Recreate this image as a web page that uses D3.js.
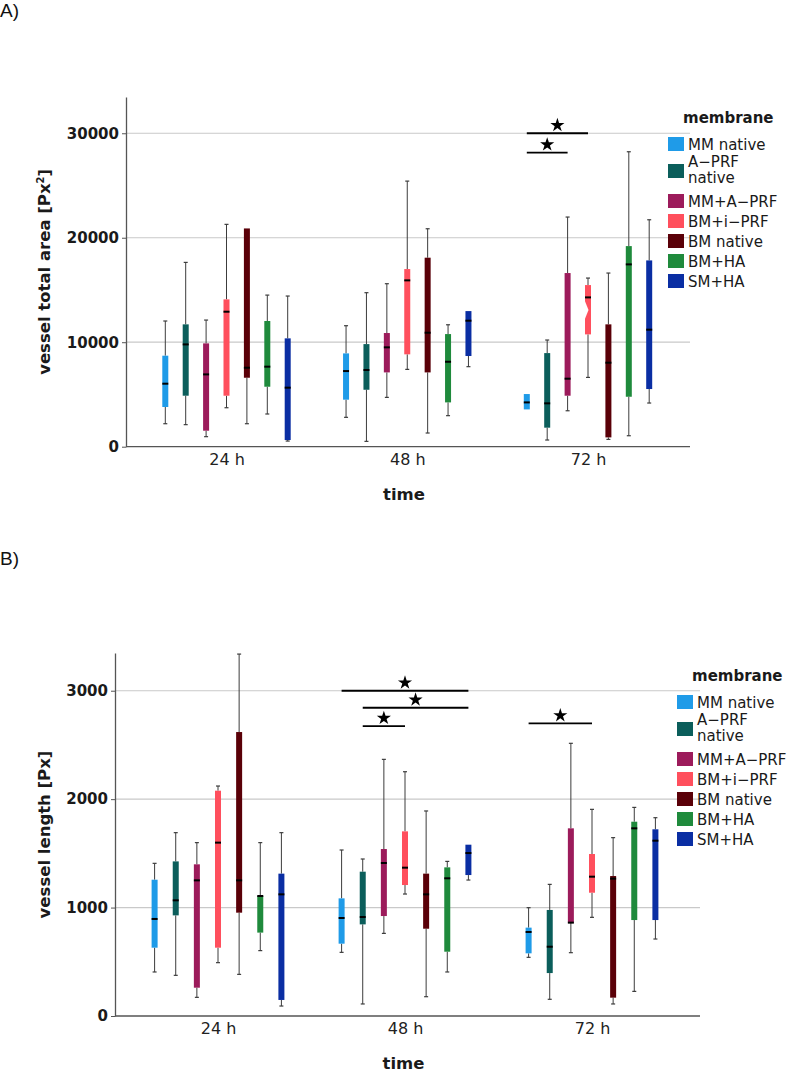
<!DOCTYPE html>
<html>
<head>
<meta charset="utf-8">
<script src="https://cdn.jsdelivr.net/npm/d3@7"></script>
<style>
  html, body { margin: 0; padding: 0; background: #fff; }
  svg { display: block; }
</style>
</head>
<body>
<svg id="chart" width="797" height="1074"></svg>
<script>
// ---------- data ----------
const times = ["24 h", "48 h", "72 h"];
const membranes = ["MM native", "A\u2212PRF native", "MM+A\u2212PRF", "BM+i\u2212PRF", "BM native", "BM+HA", "SM+HA"];
const legendLines = [["MM native"], ["A\u2212PRF", "native"], ["MM+A\u2212PRF"], ["BM+i\u2212PRF"], ["BM native"], ["BM+HA"], ["SM+HA"]];
const colors = ["#1f9be8", "#0b5e5b", "#9c1b5b", "#ff4f5d", "#5a0008", "#1f8a3c", "#0a2ea3"];

// [whisker low, Q1, median, Q3, whisker high] per membrane
const area24 = [
  [2200, 3800, 6030, 8710, 12030],
  [2110, 4880, 9790, 11710, 17640],
  [960, 1530, 6920, 9890, 12120],
  [3730, 4880, 12920, 14100, 21280],
  [2200, 6600, 7560, 20890, 20890],
  [3130, 5740, 7660, 12030, 14510],
  [540, 640, 5650, 10370, 14420]
];
const area48 = [
  [2810, 4500, 7240, 8930, 11580],
  [510, 5450, 7340, 9820, 14740],
  [4720, 7110, 9510, 10880, 15600],
  [7400, 8840, 15920, 17000, 25420],
  [1310, 7110, 10910, 18090, 20860],
  [2970, 4240, 8130, 10780, 11670],
  [7660, 8680, 12060, 12980, 12980]
];
const area72 = [
  [3570, 3570, 4240, 5040, 5040],
  [640, 1820, 4150, 8960, 10210],
  [3440, 4880, 6510, 16620, 21980],
  [6630, 10750, 14290, 15470, 16140],
  [700, 890, 8040, 11710, 16620],
  [1050, 4780, 17450, 19200, 28230],
  [4180, 5520, 11200, 17830, 21720]
];
const length24 = [
  [406, 630, 895, 1257, 1408],
  [375, 928, 1067, 1426, 1691],
  [172, 261, 1251, 1399, 1599],
  [492, 630, 1599, 2078, 2121],
  [384, 953, 1251, 2619, 3338],
  [603, 769, 1107, 1107, 1599],
  [92, 148, 1122, 1313, 1691]
];
const length48 = [
  [587, 667, 904, 1085, 1531],
  [111, 845, 913, 1331, 1448],
  [762, 922, 1411, 1540, 2367],
  [1125, 1208, 1368, 1703, 2253],
  [178, 805, 1122, 1313, 1891],
  [406, 593, 1270, 1371, 1426],
  [1254, 1300, 1503, 1580, 1580]
];
const length72 = [
  [541, 578, 775, 815, 999],
  [154, 396, 639, 978, 1214],
  [584, 861, 861, 1731, 2515],
  [910, 1137, 1285, 1494, 1906],
  [111, 169, 1267, 1291, 1645],
  [227, 885, 1731, 1792, 1924],
  [710, 885, 1617, 1722, 1829]
];
const areaTicks = [0, 10000, 20000, 30000];
const lengthTicks = [0, 1000, 2000, 3000];
// significance brackets: time, from membrane index, to membrane index, value level
const areaSig = [
  { time: "72 h", from: 0, to: 3, y: 30000 },
  { time: "72 h", from: 0, to: 2, y: 28150 }
];
const lengthSig = [
  { time: "48 h", from: 0, to: 6, y: 3000 },
  { time: "48 h", from: 1, to: 6, y: 2843 },
  { time: "48 h", from: 1, to: 3, y: 2674 },
  { time: "72 h", from: 0, to: 3, y: 2698 }
];
// notch of the BM+i-PRF 72 h box in panel A: [upper, apex, lower] values
const areaNotch = [14040, 13080, 12130];

// ---------- drawing ----------
const svg = d3.select("#chart");
const FONT = "'DejaVu Sans', 'Noto Sans', sans-serif";

function panel(cfg) {
  const g = svg.append("g");
  const y = d3.scaleLinear().domain([0, cfg.yMax]).range([cfg.y0, cfg.yTop]);
  const x = d3.scalePoint().domain(times).range(cfg.xCenters);
  const xi = d3.scalePoint().domain(d3.range(membranes.length)).range([-cfg.spread, cfg.spread]);

  // gridlines
  g.append("g").selectAll("line").data(cfg.ticks.filter(t => t > 0)).join("line")
    .attr("x1", cfg.xAxis).attr("x2", cfg.xEnd)
    .attr("y1", d => y(d)).attr("y2", d => y(d))
    .attr("stroke", "#c9c9c9").attr("stroke-width", 1.2);

  // y axis
  const ya = g.append("g").attr("transform", `translate(${cfg.xAxis},0)`)
    .call(d3.axisLeft(y).tickValues(cfg.ticks).tickSize(4).tickSizeOuter(0).tickPadding(3).tickFormat(d3.format("d")));
  ya.select(".domain").attr("stroke", "#555").attr("stroke-width", 1.3);
  ya.selectAll(".tick line").attr("stroke", "#555");
  ya.selectAll(".tick text").attr("font-family", FONT).attr("font-size", 15)
    .attr("font-weight", "bold").attr("fill", "#1a1a1a");

  // x axis
  g.append("line").attr("x1", cfg.xAxis).attr("x2", cfg.xEnd)
    .attr("y1", cfg.y0).attr("y2", cfg.y0).attr("stroke", "#555").attr("stroke-width", 1.3);
  const xa = g.append("g").attr("transform", `translate(0,${cfg.y0})`)
    .call(d3.axisBottom(x).tickSize(0).tickPadding(7));
  xa.select(".domain").remove();
  xa.selectAll(".tick text").attr("font-family", FONT).attr("font-size", 16).attr("fill", "#222");

  // axis titles
  g.append("text").attr("x", (cfg.xAxis + cfg.xEnd) / 2 - 4).attr("y", cfg.y0 + 53)
    .attr("text-anchor", "middle").attr("font-family", FONT).attr("font-size", 16.5)
    .attr("font-weight", "bold").attr("fill", "#1a1a1a").text("time");
  const yt = g.append("text")
    .attr("transform", `translate(${cfg.titleX},${(cfg.y0 + cfg.yTop) / 2}) rotate(-90)`)
    .attr("text-anchor", "middle").attr("font-family", FONT).attr("font-size", 16.5)
    .attr("font-weight", "bold").attr("fill", "#1a1a1a");
  cfg.title(yt);

  // panel letter
  g.append("text").attr("x", 0).attr("y", cfg.letterY).attr("font-family", "'Liberation Sans', Arial, sans-serif")
    .attr("font-size", 19).attr("fill", "#111").text(cfg.letter);

  // boxes
  const bw = 6;
  cfg.stats.forEach((arr, ti) => {
    const cx0 = x(times[ti]);
    arr.forEach((s, mi) => {
      const cx = cx0 + xi(mi);
      const [wl, q1, med, q3, wh] = s;
      const bg = g.append("g");
      const wstroke = "#3c3c3c";
      if (wh > q3) {
        bg.append("line").attr("x1", cx).attr("x2", cx).attr("y1", y(q3)).attr("y2", y(wh))
          .attr("stroke", wstroke).attr("stroke-width", 1);
        bg.append("line").attr("x1", cx - 2).attr("x2", cx + 2).attr("y1", y(wh)).attr("y2", y(wh))
          .attr("stroke", wstroke).attr("stroke-width", 1.2);
      }
      if (wl < q1) {
        bg.append("line").attr("x1", cx).attr("x2", cx).attr("y1", y(q1)).attr("y2", y(wl))
          .attr("stroke", wstroke).attr("stroke-width", 1);
        bg.append("line").attr("x1", cx - 2).attr("x2", cx + 2).attr("y1", y(wl)).attr("y2", y(wl))
          .attr("stroke", wstroke).attr("stroke-width", 1.2);
      }
      bg.append("rect").attr("x", cx - bw / 2).attr("width", bw)
        .attr("y", y(q3)).attr("height", Math.max(1, y(q1) - y(q3)))
        .attr("fill", colors[mi]);
      if (cfg.notch && cfg.notch.ti === ti && cfg.notch.mi === mi) {
        const [a, b, c] = cfg.notch.v;
        bg.append("path")
          .attr("d", `M${cx - bw / 2 - 0.5},${y(a)} L${cx - bw / 2 + 3.5},${y(b)} L${cx - bw / 2 - 0.5},${y(c)} Z`)
          .attr("fill", "#fff");
      }
      bg.append("line").attr("x1", cx - bw / 2).attr("x2", cx + bw / 2)
        .attr("y1", y(med)).attr("y2", y(med)).attr("stroke", "#000").attr("stroke-width", 2);
    });
  });

  // significance brackets
  const star = d3.symbol().type(d3.symbolStar).size(62);
  cfg.sig.forEach(sg => {
    const x1 = x(sg.time) + xi(sg.from), x2 = x(sg.time) + xi(sg.to);
    g.append("line").attr("x1", x1).attr("x2", x2).attr("y1", y(sg.y)).attr("y2", y(sg.y))
      .attr("stroke", "#000").attr("stroke-width", 1.8);
    g.append("path").attr("d", star()).attr("fill", "#000")
      .attr("transform", `translate(${(x1 + x2) / 2},${y(sg.y) - 8})`);
  });

  // legend
  const lg = g.append("g");
  lg.append("text").attr("x", cfg.legX + 15).attr("y", cfg.legTop - 14)
    .attr("font-family", FONT).attr("font-size", 15).attr("font-weight", "bold").attr("fill", "#1a1a1a")
    .text("membrane");
  const offs = [0, 27, 57, 77, 97, 117, 137];
  membranes.forEach((m, i) => {
    const ty = cfg.legTop + offs[i];
    lg.append("rect").attr("x", cfg.legX).attr("y", ty).attr("width", 16).attr("height", 14)
      .attr("fill", colors[i]);
    const lines = legendLines[i];
    const base = lines.length > 1 ? ty + 3 : ty + 12.5;
    lines.forEach((ln, k) => {
      lg.append("text").attr("x", cfg.legX + 20).attr("y", base + k * 16)
        .attr("font-family", FONT).attr("font-size", 15).attr("fill", "#1a1a1a").text(ln);
    });
  });
}

panel({
  letter: "A)", letterY: 17,
  xAxis: 126, xEnd: 690, yTop: 97, y0: 446.7, yMax: 33470,
  xCenters: [226.5, 588], spread: 61.2,
  ticks: areaTicks, stats: [area24, area48, area72], sig: areaSig,
  notch: { ti: 2, mi: 3, v: areaNotch },
  titleX: 50,
  title: t => { t.append("tspan").text("vessel total area [Px"); t.append("tspan").attr("font-size", 10).attr("dy", -6).text("2"); t.append("tspan").attr("dy", 6).text("]"); },
  legX: 668, legTop: 137
});

panel({
  letter: "B)", letterY: 565,
  xAxis: 115, xEnd: 700, yTop: 653, y0: 1016, yMax: 3348,
  xCenters: [218, 592], spread: 63.4,
  ticks: lengthTicks, stats: [length24, length48, length72], sig: lengthSig,
  notch: null,
  titleX: 50,
  title: t => t.text("vessel length [Px]"),
  legX: 677, legTop: 695
});
</script>
</body>
</html>
